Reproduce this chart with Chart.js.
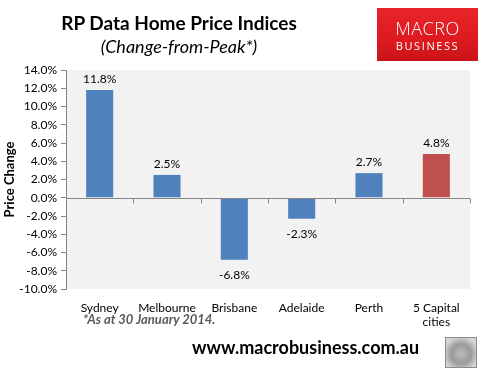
<!DOCTYPE html>
<html>
<head>
<meta charset="utf-8">
<script src="https://cdn.jsdelivr.net/npm/chart.js@4/dist/chart.umd.min.js"></script>
<style>
  html, body { margin: 0; padding: 0; background: #fff; }
  #wrap { position: relative; width: 486px; height: 378px; overflow: hidden; font-family: Lato, "Open Sans", sans-serif; }
  #c { position: absolute; left: 0; top: 0; }
  .title { position: absolute; left: 0; width: 358px; text-align: center; top: 11px; font: bold 19px Lato, sans-serif; color: #000; }
  .subtitle { position: absolute; left: 0; width: 358px; text-align: center; top: 35px; font: italic 18px Lato, sans-serif; color: #000; }
  .logo { position: absolute; left: 377px; top: 8px; width: 101px; height: 53px;
          background: linear-gradient(180deg, #e8262a 0%, #dd1a1f 60%, #c9141a 100%); color: #fff; text-align: center; }
  .logo .m { position: absolute; left: 0; width: 100%; top: 10px; font: 300 18px "Open Sans", sans-serif; letter-spacing: 0.5px; line-height: 20px; }
  .logo .b { position: absolute; left: 0; width: 100%; top: 31px; font: 11px "Open Sans", sans-serif; letter-spacing: 1.6px; line-height: 14px; }
  .foot { position: absolute; left: 83px; top: 311px; font: italic bold 13px Lato, sans-serif; color: #595959; }
  .url { position: absolute; left: 192px; top: 336px; font: bold 18px Lato, sans-serif; color: #000; }
  .wolf { position: absolute; left: 445px; top: 337px; width: 32px; height: 31px; box-sizing: border-box;
          border: 1px solid #8c8c8c; background: radial-gradient(circle at 50% 55%, #bdbdbd 0%, #9a9a9a 45%, #d6d6d6 80%); }
</style>
</head>
<body>
<div id="wrap">
  <canvas id="c" width="486" height="378"></canvas>
  <div class="title">RP Data Home Price Indices</div>
  <div class="subtitle">(Change-from-Peak*)</div>
  <div class="logo"><div class="m">MACRO</div><div class="b">BUSINESS</div></div>
  <div class="foot">*As at 30 January 2014.</div>
  <div class="url">www.macrobusiness.com.au</div>
  <div class="wolf"></div>
</div>
<script>
const categories = [["Sydney"], ["Melbourne"], ["Brisbane"], ["Adelaide"], ["Perth"], ["5 Capital", "cities"]];
const priceChange = [11.8, 2.5, -6.8, -2.3, 2.7, 4.8];
const barColors = ["#4f81bd", "#4f81bd", "#4f81bd", "#4f81bd", "#4f81bd", "#c0504d"];
const yMin = -10, yMax = 14, yStep = 2;

const bgPlugin = {
  id: 'plotBg',
  beforeDraw(chart) {
    const a = chart.chartArea, ctx = chart.ctx;
    ctx.save();
    ctx.fillStyle = '#f2f2f2';
    ctx.fillRect(a.left, a.top, a.right - a.left, a.bottom - a.top);
    ctx.restore();
  }
};

const zeroAxisPlugin = {
  id: 'zeroAxis',
  afterDatasetsDraw(chart) {
    const ctx = chart.ctx, a = chart.chartArea;
    const y0 = Math.round(chart.scales.y.getPixelForValue(0)) + 0.5;
    ctx.save();
    ctx.strokeStyle = '#868686';
    ctx.lineWidth = 1;
    ctx.beginPath();
    ctx.moveTo(a.left, y0);
    ctx.lineTo(a.right, y0);
    const n = chart.data.labels.length;
    for (let i = 0; i <= n; i++) {
      const x = Math.round(a.left + (a.right - a.left) * i / n) + 0.5;
      ctx.moveTo(x, y0);
      ctx.lineTo(x, y0 + 5);
    }
    ctx.stroke();

    ctx.fillStyle = '#000';
    ctx.font = '12px Lato, sans-serif';
    ctx.textAlign = 'center';
    ctx.textBaseline = 'middle';
    const meta = chart.getDatasetMeta(0);
    meta.data.forEach((bar, i) => {
      const v = chart.data.datasets[0].data[i];
      const y = v >= 0 ? bar.y - 11 : bar.y + 15;
      ctx.fillText(v.toFixed(1) + '%', bar.x, y);
    });
    ctx.restore();
  }
};

new Chart(document.getElementById('c'), {
  type: 'bar',
  data: {
    labels: categories,
    datasets: [{
      data: priceChange,
      backgroundColor: barColors,
      borderWidth: 0,
      barPercentage: 0.6,
      categoryPercentage: 0.67
    }]
  },
  options: {
    responsive: false,
    animation: false,
    devicePixelRatio: 1,
    layout: { padding: { top: 70, right: 16, left: 0, bottom: 0 } },
    plugins: { legend: { display: false }, tooltip: { enabled: false } },
    scales: {
      x: {
        grid: { display: false, drawTicks: false },
        border: { display: false },
        ticks: { color: '#000', font: { family: 'Lato', size: 12 }, padding: 12, maxRotation: 0, autoSkip: false },
        afterFit(s) { s.height = 89; }
      },
      y: {
        min: yMin, max: yMax,
        ticks: { stepSize: yStep, color: '#000', font: { family: 'Lato', size: 12 }, padding: 4,
                 callback: v => v.toFixed(1) + '%' },
        grid: { drawOnChartArea: false, drawTicks: true, tickLength: 5, color: '#868686' },
        border: { display: true, color: '#868686' },
        title: { display: true, text: 'Price Change', color: '#000', font: { family: 'Lato', size: 13, weight: 'bold' }, padding: { top: 2, bottom: 2 } },
        afterFit(s) { s.width = 66; }
      }
    }
  },
  plugins: [bgPlugin, zeroAxisPlugin]
});
</script>
</body>
</html>
